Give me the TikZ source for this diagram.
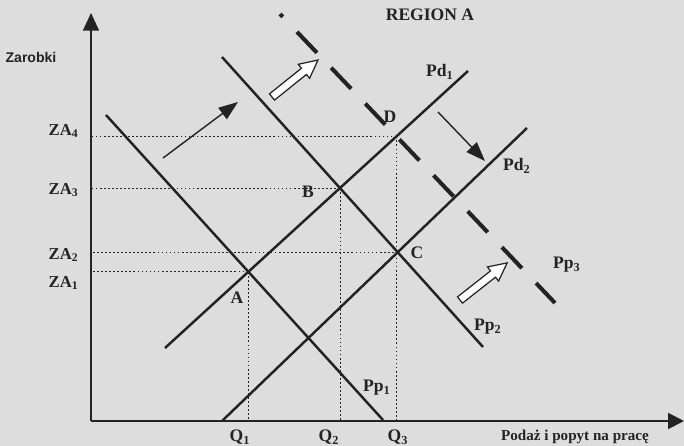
\documentclass[tikz,border=0pt]{standalone}
\usepackage{fontspec}
\setmainfont{Liberation Serif}
\newfontfamily\axisfont{Liberation Sans}
\usepackage{tikz}
\usetikzlibrary{arrows.meta,intersections,calc}
\definecolor{scanGray}{RGB}{221,221,221}
\definecolor{inkDark}{RGB}{35,35,35}

\begin{document}
\begin{tikzpicture}[x=0.02cm,y=-0.02cm,
    curve/.style={inkDark,line width=1.4pt},
    shiftline/.style={inkDark,line width=2.3pt,dash pattern=on 16.5pt off 11.7pt,dash phase=14.2pt},
    guide/.style={inkDark,line width=0.5pt,dash pattern=on 1pt off 1.3pt},
    lbl/.style={inkDark,font=\fontsize{10}{12}\selectfont\bfseries,inner sep=0pt},
    za/.style={lbl,font=\fontsize{9.5}{11}\selectfont\bfseries,anchor=east},
    moveto/.style={inkDark,line width=0.8pt,-{Triangle[length=11pt,width=8pt]}},
    fatarrow/.style={draw=inkDark,fill=white,line width=0.7pt}]
  % Page
  \fill[scanGray] (0,0) rectangle (684,446);
  \useasboundingbox (0,0) rectangle (684,446);
  % Axis
  \coordinate (O) at (91,421);
  \coordinate (ytip) at (91,13);
  \coordinate (xtip) at (684,421);
  \draw[inkDark,line width=1.1pt,-{Triangle[length=10pt,width=9pt]}] (O) -- (ytip);
  \draw[inkDark,line width=1.1pt,-{Triangle[length=9pt,width=9pt]}] (O) -- (xtip);
  \node[lbl,font=\axisfont\fontsize{8}{10}\selectfont\bfseries] (zarobki) at (31,57) {Zarobki};
  \node[lbl,font=\fontsize{8.6}{10}\selectfont\bfseries] (podaz) at (575,437) {Podaż i popyt na pracę};
  \node[lbl] (region) at (430,15) {REGION A};
  % Curves
  \coordinate (pd1s) at (165,348);  \coordinate (pd1e) at (468,71);
  \coordinate (pd2s) at (222,421);  \coordinate (pd2e) at (527,128);
  \coordinate (pp1s) at (106,115);  \coordinate (pp1e) at (383,420);
  \coordinate (pp2s) at (222,57);   \coordinate (pp2e) at (483,347);
  \coordinate (pp3s) at (280,14);   \coordinate (pp3e) at (555,303);
  \draw[curve,name path=pd1] (pd1s) -- (pd1e);
  \draw[curve,name path=pd2] (pd2s) -- (pd2e);
  \draw[curve,name path=pp1] (pp1s) -- (pp1e);
  \draw[curve,name path=pp2] (pp2s) -- (pp2e);
  \draw[shiftline,name path=pp3] (pp3s) -- (pp3e);
  % Equilibria
  \path[name intersections={of=pd1 and pp1,by=A}];
  \path[name intersections={of=pd1 and pp2,by=B}];
  \path[name intersections={of=pd2 and pp2,by=C}];
  \path[name intersections={of=pd1 and pp3,by=D}];
  \draw[guide] (A) -- (A -| O);
  \draw[guide] (B) -- (B -| O);
  \draw[guide] (C) -- (C -| O);
  \draw[guide] (D) -- (D -| O);
  \draw[guide] (A) -- (A |- O);
  \draw[guide] (B) -- (B |- O);
  \draw[guide] (D) -- (D |- O);
  % Labels
  \node[za] (za4) at (79,131) {ZA\textsubscript{4}};
  \node[za] (za3) at (79,190) {ZA\textsubscript{3}};
  \node[za] (za2) at (79,255) {ZA\textsubscript{2}};
  \node[za] (za1) at (79,283) {ZA\textsubscript{1}};
  \node[lbl] (labA) at (237,298) {A};
  \node[lbl] (labB) at (308,192) {B};
  \node[lbl] (labC) at (417,253) {C};
  \node[lbl] (labD) at (390,117) {D};
  \node[lbl] (labpd1) at (440,72) {Pd\textsubscript{1}};
  \node[lbl] (labpd2) at (517,166) {Pd\textsubscript{2}};
  \node[lbl] (labpp1) at (377,388) {Pp\textsubscript{1}};
  \node[lbl] (labpp2) at (488,327) {Pp\textsubscript{2}};
  \node[lbl] (labpp3) at (567,265) {Pp\textsubscript{3}};
  \node[lbl] (q1) at (240,437) {Q\textsubscript{1}};
  \node[lbl] (q2) at (329,437) {Q\textsubscript{2}};
  \node[lbl] (q3) at (398,437) {Q\textsubscript{3}};
  % Shifts
  \coordinate (m1s) at (163,158);  \coordinate (m1e) at (238,102);
  \coordinate (m2s) at (438,112);  \coordinate (m2e) at (485,161);
  \draw[moveto] (m1s) -- (m1e);
  \draw[moveto] (m2s) -- (m2e);
  \begin{scope}[shift={(272,97)},rotate=38.8]
    \draw[fatarrow] (0,-4) -- (41,-4) -- (41,-9) -- (59,0) -- (41,9) -- (41,4) -- (0,4) -- cycle;
  \end{scope}
  \begin{scope}[shift={(460,300)},rotate=38.2]
    \draw[fatarrow] (0,-4) -- (42,-4) -- (42,-9) -- (60,0) -- (42,9) -- (42,4) -- (0,4) -- cycle;
  \end{scope}
\end{tikzpicture}
\end{document}
